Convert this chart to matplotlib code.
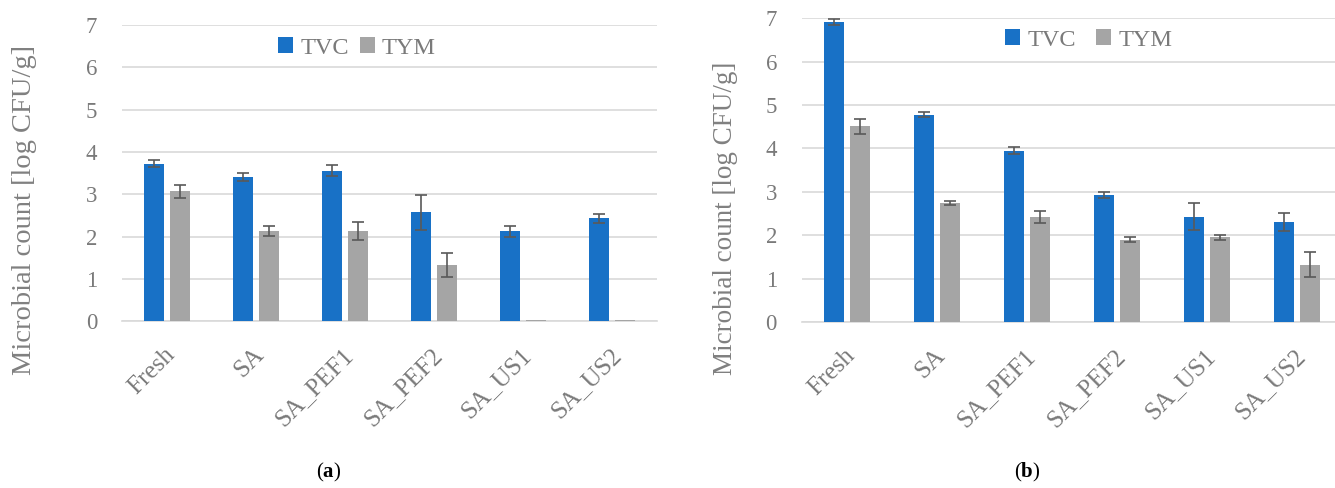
import matplotlib
matplotlib.use('Agg')
import matplotlib.pyplot as plt
import matplotlib.transforms as mtransforms
import numpy as np

plt.rcParams['font.family'] = ['Liberation Serif', 'DejaVu Serif']
plt.rcParams['mathtext.fontset'] = 'custom'
plt.rcParams['mathtext.rm'] = 'Liberation Serif'
plt.rcParams['mathtext.bf'] = 'Liberation Serif:bold'

samples = ['Fresh', 'SA', 'SA_PEF1', 'SA_PEF2', 'SA_US1', 'SA_US2']

# (a)
tvc_a = [3.72, 3.41, 3.56, 2.57, 2.12, 2.43]
tvc_a_err = [0.08, 0.10, 0.13, 0.42, 0.12, 0.10]
tym_a = [3.07, 2.13, 2.13, 1.32, 0.02, 0.02]
tym_a_err = [0.16, 0.12, 0.21, 0.28, 0.0, 0.0]

# (b)
tvc_b = [6.91, 4.78, 3.95, 2.92, 2.43, 2.31]
tvc_b_err = [0.07, 0.06, 0.08, 0.07, 0.32, 0.21]
tym_b = [4.51, 2.75, 2.42, 1.90, 1.95, 1.32]
tym_b_err = [0.17, 0.05, 0.14, 0.05, 0.05, 0.29]

BLUE = '#1871C6'
GREY = '#A5A5A5'
TXT = '#7A7A7A'

fig = plt.figure(figsize=(13.35, 4.88), dpi=100)


def draw_panel(ax, tvc, tvc_err, tym, tym_err, label_size, label_xy, legend_xy, col_space):
    x = np.arange(len(samples))
    w = 0.225
    off = 0.146
    ax.bar(x - off, tvc, w, color=BLUE, label='TVC', zorder=3)
    ax.bar(x + off, tym, w, color=GREY, label='TYM', zorder=3)
    for xs, vals, errs in [(x - off, tvc, tvc_err), (x + off, tym, tym_err)]:
        keep = [i for i in range(len(vals)) if errs[i] > 0]
        ax.errorbar(xs[keep], np.array(vals)[keep], yerr=np.array(errs)[keep],
                    fmt='none', ecolor='#595959', elinewidth=1.2, capsize=4,
                    capthick=1.2, zorder=4)

    ax.set_xlim(-0.5, len(samples) - 0.5)
    ax.set_ylim(0, 7)
    ax.set_yticks(range(8))
    ax.yaxis.grid(True, color='#D9D9D9', linewidth=1.2, zorder=0)
    ax.set_axisbelow(True)
    for s in ['top', 'right', 'left']:
        ax.spines[s].set_visible(False)
    ax.spines['bottom'].set_color('#D9D9D9')
    ax.spines['bottom'].set_linewidth(1.2)
    ax.tick_params(axis='both', length=0, labelcolor=TXT)
    ax.tick_params(axis='y', labelsize=16.5, pad=18)

    ax.set_xticks(x)
    ax.set_xticklabels(samples, rotation=45, ha='right', va='center',
                       rotation_mode='anchor', fontsize=18)
    ax.tick_params(axis='x', pad=22)
    shift = mtransforms.ScaledTranslation(5 / 100, 0, fig.dpi_scale_trans)
    for lab in ax.get_xticklabels():
        lab.set_transform(lab.get_transform() + shift)

    ax.set_ylabel('Microbial count [log CFU/g]', fontsize=label_size,
                  color='#808080')
    ax.yaxis.set_label_coords(*label_xy)

    ax.legend(loc='center', bbox_to_anchor=legend_xy,
              bbox_transform=fig.transFigure, ncol=2, frameon=False,
              fontsize=17.5, labelcolor=TXT, handlelength=0.62,
              handleheight=0.6, handletextpad=0.3, columnspacing=col_space)


ax_a = fig.add_axes([0.0914, 0.342, 0.4007, 0.6066])
draw_panel(ax_a, tvc_a, tvc_a_err, tym_a, tym_a_err, 20.5, (-0.159, 0.375),
           (0.2674, 0.9016), 0.45)

ax_b = fig.add_axes([0.6007, 0.3402, 0.4045, 0.6223])
draw_panel(ax_b, tvc_b, tvc_b_err, tym_b, tym_b_err, 19.5, (-0.1185, 0.34),
           (0.8157, 0.918), 0.83)

fig.text(329 / 1335, 1 - 472 / 488, r'($\mathbf{a}$)', fontsize=15,
         color='black', ha='center', va='center')
fig.text(1027 / 1335, 1 - 472 / 488, r'($\mathbf{b}$)', fontsize=15,
         color='black', ha='center', va='center')

fig.savefig('out.png', dpi=100)
